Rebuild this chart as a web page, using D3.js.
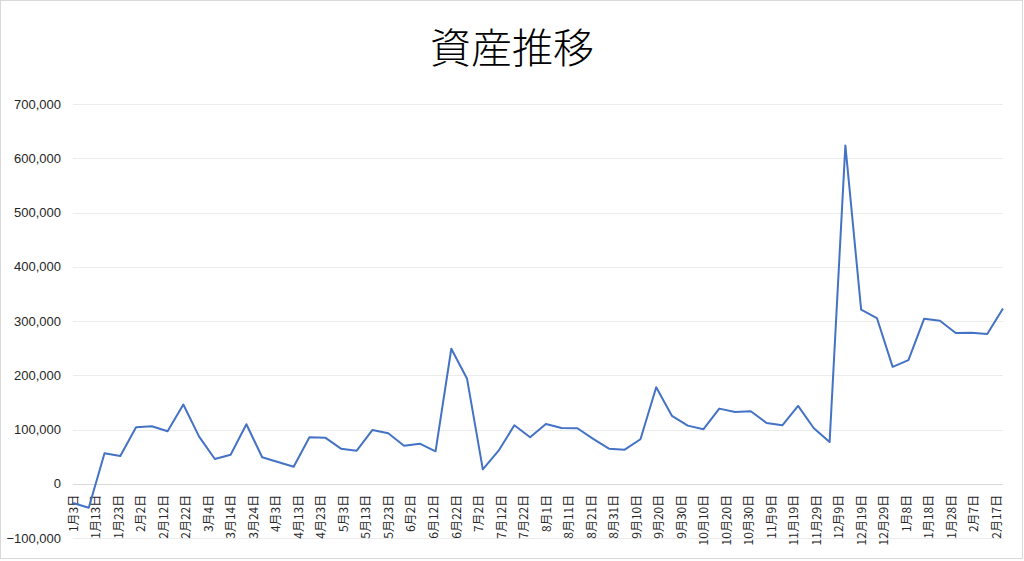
<!DOCTYPE html>
<html lang="ja">
<head>
<meta charset="utf-8">
<title>資産推移</title>
<script src="https://d3js.org/d3.v7.min.js"></script>
<style>
    body {
        margin: 0;
        background: #ffffff;
    }
    text {
        font-family: "Noto Sans CJK JP", "Noto Sans", sans-serif;
    }
    .title {
        font-size: 41px;
        font-weight: 300;
        fill: #000000;
    }
    .axis--y text {
        font-family: "Liberation Sans", Arial, sans-serif;
        font-size: 13px;
        fill: #262626;
    }
    .axis--x text {
        font-size: 12px;
        fill: #262626;
    }
    .grid line {
        stroke: #ececec;
        stroke-width: 1;
    }
    .line {
        fill: none;
        stroke: #4472C4;
        stroke-width: 2;
        stroke-linejoin: round;
    }
</style>
</head>
<body>
<svg width="1024" height="561"></svg>
<script>
    // weekly dates and asset values
    var dates = [
        "2021-01-03", "2021-01-10", "2021-01-17", "2021-01-24", "2021-01-31",
        "2021-02-07", "2021-02-14", "2021-02-21", "2021-02-28", "2021-03-07",
        "2021-03-14", "2021-03-21", "2021-03-28", "2021-04-04", "2021-04-11",
        "2021-04-18", "2021-04-25", "2021-05-02", "2021-05-09", "2021-05-16",
        "2021-05-23", "2021-05-30", "2021-06-06", "2021-06-13", "2021-06-20",
        "2021-06-27", "2021-07-04", "2021-07-11", "2021-07-18", "2021-07-25",
        "2021-08-01", "2021-08-08", "2021-08-15", "2021-08-22", "2021-08-29",
        "2021-09-05", "2021-09-12", "2021-09-19", "2021-09-26", "2021-10-03",
        "2021-10-10", "2021-10-17", "2021-10-24", "2021-10-31", "2021-11-07",
        "2021-11-14", "2021-11-21", "2021-11-28", "2021-12-05", "2021-12-12",
        "2021-12-19", "2021-12-26", "2022-01-02", "2022-01-09", "2022-01-16",
        "2022-01-23", "2022-01-30", "2022-02-06", "2022-02-13", "2022-02-20"
    ];
    var assets = [
        -35600, -44300, 56100, 51200, 104000, 106000, 96800, 146000, 86800, 45600,
        53600, 109700, 48800, 40000, 31400, 85700, 85000, 64700, 61000, 99200,
        93100, 70200, 73900, 59800, 248800, 193400, 26600, 61000, 107800, 85700,
        110300, 102900, 102300, 82600, 64700, 62800, 82000, 178000, 125000, 107100,
        100500, 138500, 132400, 133700, 112100, 107800, 143500, 102300, 77000, 623700,
        320800, 305500, 215500, 227900, 304200, 300500, 277800, 278400, 276000, 323200
    ];
    // category axis labels, every 10 days
    var tickDates = [
        "2021-01-03", "2021-01-13", "2021-01-23", "2021-02-02", "2021-02-12",
        "2021-02-22", "2021-03-04", "2021-03-14", "2021-03-24", "2021-04-03",
        "2021-04-13", "2021-04-23", "2021-05-03", "2021-05-13", "2021-05-23",
        "2021-06-02", "2021-06-12", "2021-06-22", "2021-07-02", "2021-07-12",
        "2021-07-22", "2021-08-01", "2021-08-11", "2021-08-21", "2021-08-31",
        "2021-09-10", "2021-09-20", "2021-09-30", "2021-10-10", "2021-10-20",
        "2021-10-30", "2021-11-09", "2021-11-19", "2021-11-29", "2021-12-09",
        "2021-12-19", "2021-12-29", "2022-01-08", "2022-01-18", "2022-01-28",
        "2022-02-07", "2022-02-17"
    ];
    var yTicks = [-100000, 0, 100000, 200000, 300000, 400000, 500000, 600000, 700000];

    var parse = d3.timeParse("%Y-%m-%d");
    var data = dates.map(function(d, i) {
        return {date: parse(d), value: assets[i]};
    });

    var svg = d3.select("svg"),
        margin = {top: 104, right: 21, bottom: 23, left: 73},
        width = 1024 - margin.left - margin.right,
        height = 538 - margin.top;

    // chart border
    svg.append("rect")
        .attr("x", 0.5)
        .attr("y", 0.5)
        .attr("width", 1022)
        .attr("height", 558)
        .attr("fill", "#ffffff")
        .attr("stroke", "#d9d9d9");

    svg.append("text")
        .attr("class", "title")
        .attr("x", 512)
        .attr("y", 63)
        .attr("text-anchor", "middle")
        .text("資産推移");

    var g = svg.append("g").attr("transform", "translate(" + margin.left + "," + margin.top + ")");

    var x = d3.scaleTime()
        .domain(d3.extent(data, function(d) { return d.date; }))
        .range([0, width]);

    var y = d3.scaleLinear()
        .domain([-100000, 700000])
        .range([height, 0]);

    // gridlines
    g.append("g")
        .attr("class", "grid")
        .selectAll("line")
        .data(yTicks)
        .enter().append("line")
        .attr("x1", 0)
        .attr("x2", width)
        .attr("y1", function(d) { return Math.round(y(d)) + 0.5; })
        .attr("y2", function(d) { return Math.round(y(d)) + 0.5; })
        .style("stroke", function(d) { return d === 0 ? "#d9d9d9" : null; });

    g.append("g")
        .attr("class", "axis axis--y")
        .call(d3.axisLeft(y).tickValues(yTicks).tickSize(0).tickPadding(12).tickFormat(d3.format(",")))
        .call(function(a) { a.select(".domain").remove(); });

    // x labels sit right below the zero line
    var fmt = d3.timeFormat("%-m月%-d日");
    g.append("g")
        .attr("class", "axis axis--x")
        .attr("transform", "translate(0," + y(0) + ")")
        .call(d3.axisBottom(x).tickValues(tickDates.map(parse)).tickSize(0).tickFormat(fmt))
        .call(function(a) {
            a.select(".domain").remove();
            a.selectAll("text")
                .attr("transform", "rotate(-90)")
                .attr("text-anchor", "end")
                .attr("x", -11)
                .attr("y", 0)
                .attr("dy", "0.35em");
        });

    var line = d3.line()
        .x(function(d) { return x(d.date); })
        .y(function(d) { return y(d.value); });

    g.append("path")
        .datum(data)
        .attr("class", "line")
        .attr("d", line);
</script>
</body>
</html>
